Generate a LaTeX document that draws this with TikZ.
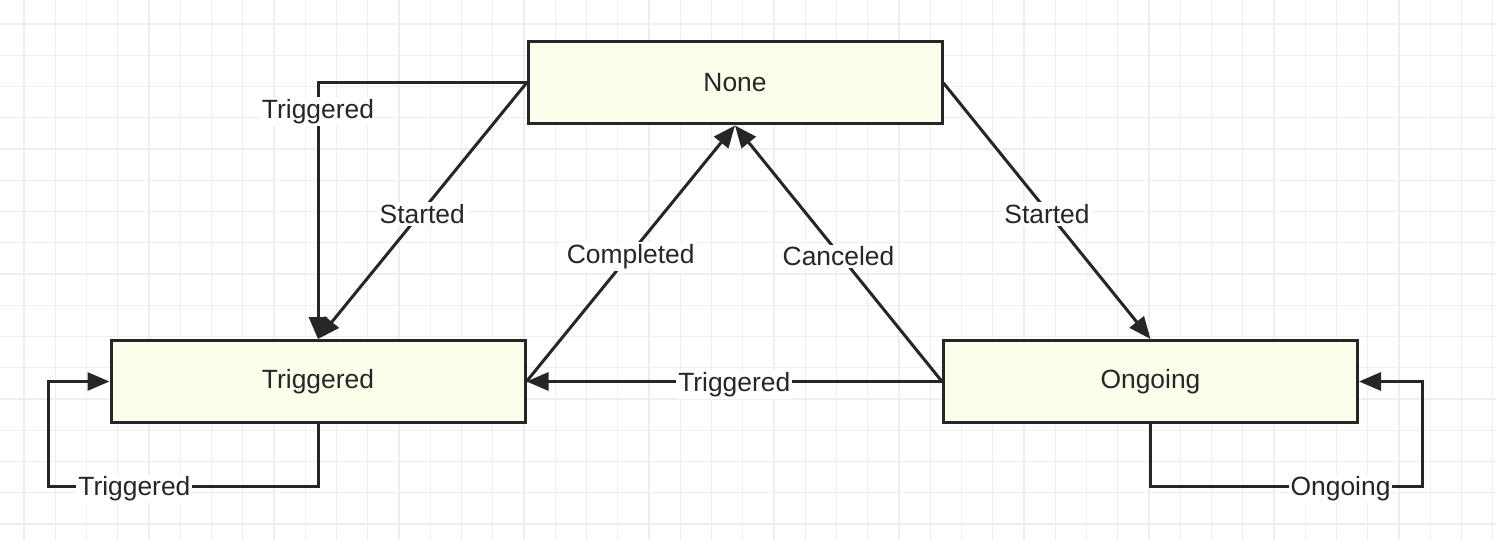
\documentclass[tikz,border=0pt]{standalone}
\usepackage{fontspec}
\setmainfont{Liberation Sans}
\usepackage{tikz}
\usetikzlibrary{arrows.meta}
\definecolor{boxfill}{RGB}{253,253,236}
\definecolor{ink}{RGB}{38,38,38}
\definecolor{gridc}{RGB}{238,238,238}
\tikzset{
  state/.style={draw=ink, line width=1.5pt, fill=boxfill, minimum width=207pt,
    minimum height=41pt, inner sep=0pt, font=\fontsize{13.2}{15}\selectfont, text=ink},
  arr/.style={draw=ink, line width=1.5pt, -{Triangle[length=11pt,width=9pt]}},
  lbl/.style={fill=white, inner sep=1pt, yshift=-1.5pt, font=\fontsize{13.2}{15}\selectfont, text=ink}
}
\begin{document}
\begin{tikzpicture}[x=0.5pt, y=-0.5pt]
        \useasboundingbox (0,0) rectangle (1496,540);
        \fill[white] (0,0) rectangle (1496,540);
        % grid
        \foreach \gx in {0,...,47}
            \draw[gridc, line width=0.7pt] (24+\gx*31.25,0) -- (24+\gx*31.25,540);
        \foreach \gy in {0,...,17}
            \draw[gridc, line width=0.7pt] (0,24+\gy*31.25) -- (1496,24+\gy*31.25);
        % states
        \node[state] (none) at (735,83) {None};
        \node[state] (trig) at (318,381.5) {Triggered};
        \node[state] (ongo) at (1150.5,381.5) {Ongoing};
        % loop corners
        \coordinate (tloop) at (48,486);
        \coordinate (oloop) at (1422,486);
        % from none
        \draw[arr] (none.west) -| node[lbl, pos=0.55] {Triggered} (trig.north);
        \draw[arr] (none.west) -- node[lbl] {Started} (trig.north);
        \draw[arr] (none.east) -- node[lbl] {Started} (ongo.north);
        % back to none
        \draw[arr] (trig.east) -- node[lbl] {Completed} (none.south);
        \draw[arr] (ongo.west) -- node[lbl] {Canceled} (none.south);
        % ongoing to triggered
        \draw[arr] (ongo.west) -- node[lbl] {Triggered} (trig.east);
        % self loops
        \draw[arr] (trig.south) |- node[lbl, pos=0.84] {Triggered} (tloop) |- (trig.west);
        \draw[arr] (ongo.south) |- node[lbl, pos=0.85] {Ongoing} (oloop) |- (ongo.east);
\end{tikzpicture}
\end{document}
